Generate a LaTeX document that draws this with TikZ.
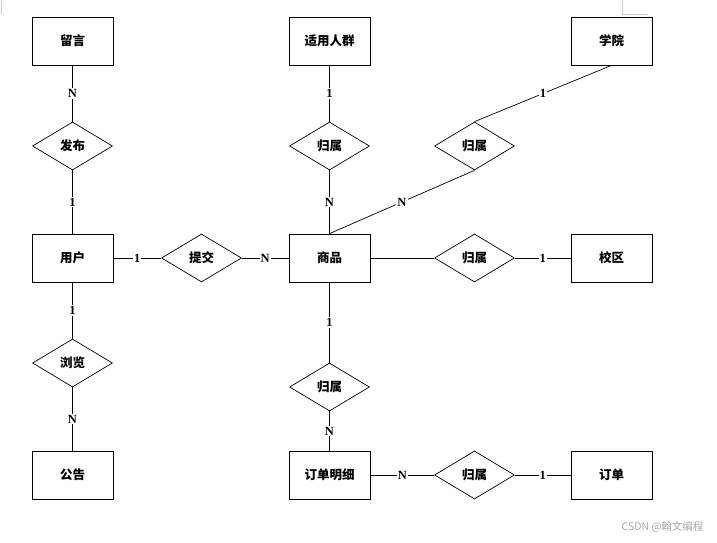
\documentclass[tikz,border=0pt]{standalone}
\usepackage{fontspec}
\setmainfont{Liberation Serif}[BoldFont={Liberation Serif Bold}]
\newfontfamily\cjk{Noto Sans CJK SC}
\usetikzlibrary{shapes.geometric}
\begin{document}
\begin{tikzpicture}[x=1pt,y=-1pt,
  entity/.style={draw, line width=0.8pt, minimum width=81pt, minimum height=48pt, inner sep=0pt, font=\cjk\bfseries\fontsize{12.5}{14}\selectfont},
  rel/.style={draw, diamond, line width=0.7pt, minimum width=80pt, minimum height=48pt, inner sep=0pt, font=\cjk\bfseries\fontsize{12.5}{14}\selectfont},
  conn/.style={line width=0.7pt},
  card/.style={fill=white, inner sep=1pt, font=\bfseries\fontsize{12.5}{14}\selectfont}]
\useasboundingbox (0,0) rectangle (717,543);
% artifacts
\draw[black!20, line width=0.6pt] (1,0) -- (1,14);
\draw[black!20, line width=0.6pt] (622,0) -- (622,14) -- (648,14);
% entities
\node[entity] (liuyan) at (72.5,41) {留言};
\node[entity] (renqun) at (329.5,41) {适用人群};
\node[entity] (xueyuan) at (611.5,41) {学院};
\node[entity] (yonghu) at (72.5,258) {用户};
\node[entity] (shangpin) at (329.5,258) {商品};
\node[entity] (xiaoqu) at (611.5,258) {校区};
\node[entity] (gonggao) at (72.5,475) {公告};
\node[entity] (mingxi) at (329.5,475) {订单明细};
\node[entity] (dingdan) at (611.5,475) {订单};
% relationships
\node[rel] (fabu) at (72.5,146) {发布};
\node[rel] (gs1) at (329.5,146) {归属};
\node[rel] (gs2) at (474.5,146) {归属};
\node[rel] (tijiao) at (201.5,258) {提交};
\node[rel] (gs3) at (474.5,258) {归属};
\node[rel] (liulan) at (72.5,363) {浏览};
\node[rel] (gs4) at (329.5,387) {归属};
\node[rel] (gs5) at (474.5,475) {归属};
% connectors
\draw[conn] (liuyan) -- node[card]{N} (fabu);
\draw[conn] (fabu) -- node[card]{1} (yonghu);
\draw[conn] (renqun) -- node[card]{1} (gs1);
\draw[conn] (gs1) -- node[card]{N} (shangpin);
\draw[conn] (xueyuan.south) -- node[card]{1} (gs2.north);
\draw[conn] (gs2.south) -- node[card]{N} (shangpin.north);
\draw[conn] (yonghu) -- node[card]{1} (tijiao);
\draw[conn] (tijiao) -- node[card]{N} (shangpin);
\draw[conn] (shangpin) -- (gs3);
\draw[conn] (gs3) -- node[card]{1} (xiaoqu);
\draw[conn] (yonghu) -- node[card]{1} (liulan);
\draw[conn] (liulan) -- node[card]{N} (gonggao);
\draw[conn] (shangpin) -- node[card]{1} (gs4);
\draw[conn] (gs4) -- node[card]{N} (mingxi);
\draw[conn] (mingxi) -- node[card]{N} (gs5);
\draw[conn] (gs5) -- node[card]{1} (dingdan);
% watermark
\node[text=black!35, font=\cjk\fontsize{10.5}{12}\selectfont, anchor=east] (wm) at (707,527) {CSDN @翰文编程};
\end{tikzpicture}
\end{document}
